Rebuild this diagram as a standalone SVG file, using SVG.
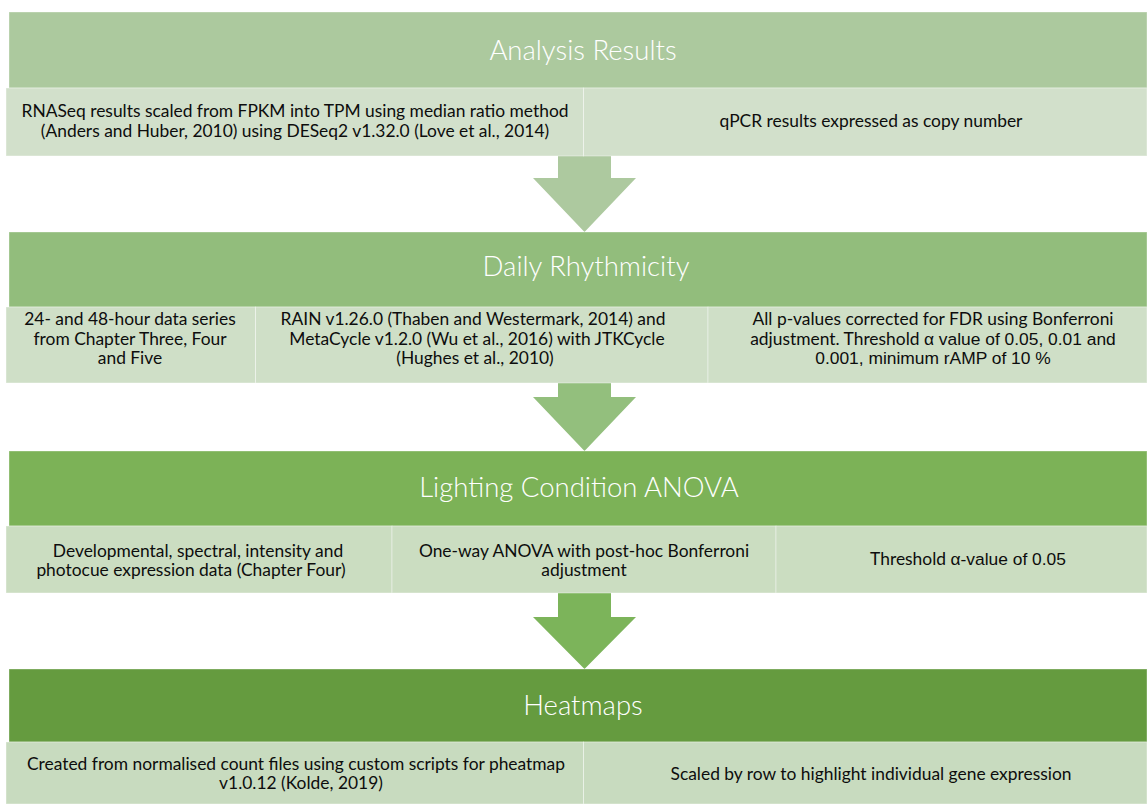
<svg xmlns="http://www.w3.org/2000/svg" width="1147" height="804" viewBox="0 0 1147 804">
<style>
.title{font-family:Lato,"Open Sans","Liberation Sans",sans-serif;font-weight:300;font-size:27.5px;fill:#ffffff;text-anchor:middle}
.t{font-family:Lato,"Open Sans","Liberation Sans",sans-serif;font-size:17.4px;fill:#0d0d0d;text-anchor:middle}
.a{font-family:"Liberation Sans",Arial,sans-serif}
.sub{stroke:#ffffff;stroke-opacity:0.4;stroke-width:1}
.hdr{stroke:#ffffff;stroke-opacity:0.35;stroke-width:1}
</style>
<rect width="1147" height="804" fill="#ffffff"/>
<g id="connectors">
<polygon points="558,156 611,156 611,178 636,178 584.5,232 533,178 558,178" fill="#adc99f"/>
<polygon points="558,383 611,383 611,397 636,397 584.5,451 533,397 558,397" fill="#93bf7d"/>
<polygon points="558,593 611,593 611,617 636,617 584.5,669 533,617 558,617" fill="#7cb45a"/>
</g>
<g id="analysis-results">
<rect class="hdr" x="9" y="12" width="1138" height="76" fill="#acc99e"/>
<text class="title" x="583" y="60">Analysis Results</text>
<rect class="sub" x="6" y="88" width="577.5" height="68" fill="#d2e0cb"/>
<rect class="sub" x="583.5" y="88" width="563.5" height="68" fill="#d2e0cb"/>
<text class="t" x="295" y="117">RNASeq results scaled from FPKM into TPM using median ratio method</text>
<text class="t" x="295" y="136.5">(Anders and Huber, 2010) using DESeq2 v1.32.0 (Love et al., 2014)</text>
<text class="t" x="871" y="127">qPCR results expressed as copy number</text>
</g>
<g id="daily-rhythmicity">
<rect class="hdr" x="9" y="232" width="1138" height="75" fill="#92bd7c"/>
<text class="title" x="586" y="276">Daily Rhythmicity</text>
<rect class="sub" x="6" y="307" width="249.5" height="76" fill="#cfdfc7"/>
<rect class="sub" x="255.5" y="307" width="452.5" height="76" fill="#cfdfc7"/>
<rect class="sub" x="708" y="307" width="439" height="76" fill="#cfdfc7"/>
<text class="t" x="130" y="325">24- and 48-hour data series</text>
<text class="t" x="130" y="344.5">from Chapter Three, Four</text>
<text class="t" x="130" y="364">and Five</text>
<text class="t" x="473" y="325">RAIN v1.26.0 (Thaben and Westermark, 2014) and</text>
<text class="t" x="477" y="344.5">MetaCycle v1.2.0 (Wu et al., 2016) with JTKCycle</text>
<text class="t" x="475" y="364">(Hughes et al., 2010)</text>
<text class="t" x="933" y="325">All p-values corrected for FDR using Bonferroni</text>
<text class="t" x="933" y="344.5">adjustment. Threshold <tspan class="a">α value of 0.05, 0.01 and</tspan></text>
<text class="t a" x="933" y="364">0.001, minimum rAMP of 10 %</text>
</g>
<g id="lighting-condition-anova">
<rect class="hdr" x="9" y="451" width="1138" height="75" fill="#7cb257"/>
<text class="title" x="579" y="497">Lighting Condition ANOVA</text>
<rect class="sub" x="6" y="526" width="386" height="67" fill="#cbddc1"/>
<rect class="sub" x="392" y="526" width="384" height="67" fill="#cbddc1"/>
<rect class="sub" x="776" y="526" width="371" height="67" fill="#cbddc1"/>
<text class="t" x="198" y="556.5">Developmental, spectral, intensity and</text>
<text class="t" x="191" y="576">photocue expression data (Chapter Four)</text>
<text class="t" x="584" y="556.5">One-way ANOVA with post-hoc Bonferroni</text>
<text class="t" x="584" y="576">adjustment</text>
<text class="t" x="968" y="565">Threshold <tspan class="a">α-value of 0.05</tspan></text>
</g>
<g id="heatmaps">
<rect class="hdr" x="9" y="669" width="1138" height="73" fill="#659b3f"/>
<text class="title" x="583" y="715">Heatmaps</text>
<rect class="sub" x="6" y="742" width="577.5" height="62" fill="#c8dbbf"/>
<rect class="sub" x="583.5" y="742" width="563.5" height="62" fill="#c8dbbf"/>
<text class="t" x="296" y="769.5">Created from normalised count files using custom scripts for pheatmap</text>
<text class="t" x="301" y="789">v1.0.12 (Kolde, 2019)</text>
<text class="t" x="871" y="780">Scaled by row to highlight individual gene expression</text>
</g>
</svg>
